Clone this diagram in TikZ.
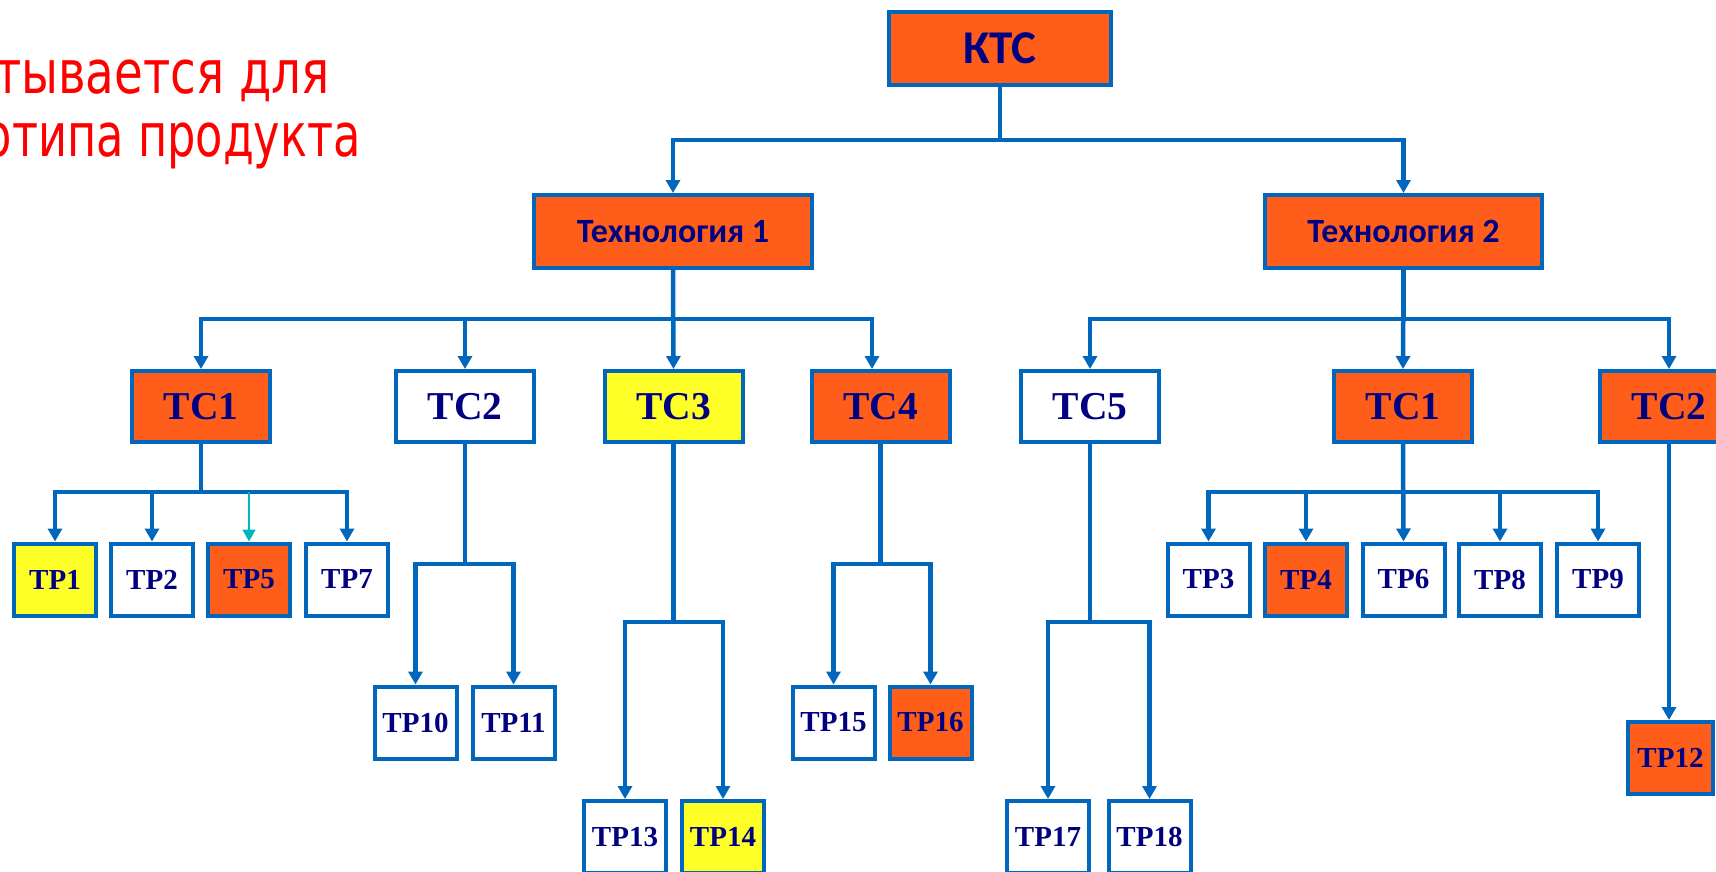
\documentclass[tikz,border=0pt]{standalone}
\usepackage{fontspec}
\usepackage{graphicx}
\usetikzlibrary{arrows.meta}
\newfontfamily\boxsans{Carlito}
\newfontfamily\boxserif{Liberation Serif}
\newfontfamily\notefont{DejaVu Sans}
\definecolor{lineblue}{RGB}{0,103,188}
\definecolor{boxorange}{RGB}{255,94,26}
\definecolor{boxyellow}{RGB}{255,255,40}
\definecolor{navytext}{RGB}{0,0,128}
\definecolor{tealline}{RGB}{0,182,190}
\definecolor{notered}{RGB}{255,0,0}
\tikzset{
  box/.style={draw=lineblue, line width=4pt, inner sep=0pt, text=navytext, fill=white, align=center},
  fillor/.style={fill=boxorange},
  fillye/.style={fill=boxyellow},
  kbox/.style={box, fill=boxorange, minimum width=222pt, minimum height=73pt,
    font=\boxsans\bfseries\fontsize{47}{47}\selectfont},
  techbox/.style={box, fill=boxorange, minimum width=278pt, minimum height=73pt,
    font=\boxsans\bfseries\fontsize{34}{34}\selectfont},
  tcbox/.style={box, minimum width=138pt, minimum height=71pt,
    font=\boxserif\bfseries\fontsize{39.5}{40}\selectfont},
  tpbox/.style={box, minimum width=82pt, minimum height=72pt,
    font=\boxserif\bfseries\fontsize{29}{29}\selectfont},
  conn/.style={draw=lineblue, line width=4.5pt, -{Triangle[width=14pt,length=13pt]}},
  tealconn/.style={draw=tealline, line width=1.8pt, -{Triangle[width=13pt,length=12pt]}},
  note/.style={inner sep=0pt, text=notered, font=\notefont\fontsize{60}{60}\selectfont, anchor=base east}
}
\begin{document}
\begin{tikzpicture}[x=1pt,y=-1pt]
\useasboundingbox (0,0) rectangle (1716,872);

% note text (cut at the left edge, as in the reference)
\node[note] (note1) at (330,94) {\scalebox{0.78}[1]{тывается для}};
\node[note] (note2) at (361,157) {\scalebox{0.745}[1]{отипа продукта}};

% junction levels
\coordinate (j0) at (0,140);
\coordinate (j1) at (0,319);
\coordinate (jA) at (0,492);
\coordinate (jB) at (0,564);
\coordinate (jC) at (0,622);

% top levels
\node[kbox] (ktc) at (1000,48.5) {КТС};
\node[techbox] (t1) at (673,231.5) {Технология 1};
\node[techbox, minimum width=277pt] (t2) at (1403.5,231.5) {Технология 2};

% TC level
\node[tcbox, fillor] (tc1) at (201,406.5) {ТС1};
\node[tcbox] (tc2) at (465,406.5) {ТС2};
\node[tcbox, fillye] (tc3) at (673.5,406.5) {ТС3};
\node[tcbox, fillor] (tc4) at (880.5,406.5) {ТС4};
\node[tcbox] (tc5) at (1090,406.5) {ТС5};
\node[tcbox, fillor] (tc6) at (1403,406.5) {ТС1};
\node[tcbox, fillor] (tc7) at (1669,406.5) {ТС2};

% TP row 1
\node[tpbox, fillye] (tp1) at (55,579.5) {ТР1};
\node[tpbox] (tp2) at (152,579.5) {ТР2};
\node[tpbox, fillor] (tp5) at (249,579.5) {ТР5};
\node[tpbox] (tp7) at (347,579.5) {ТР7};
\node[tpbox] (tp3) at (1208.5,579.5) {ТР3};
\node[tpbox, fillor] (tp4) at (1306,579.5) {ТР4};
\node[tpbox] (tp6) at (1403.5,579.5) {ТР6};
\node[tpbox] (tp8) at (1500,579.5) {ТР8};
\node[tpbox] (tp9) at (1598,579.5) {ТР9};

% TP row 2
\node[tpbox] (tp10) at (415.5,722.5) {ТР10};
\node[tpbox] (tp11) at (513.5,722.5) {ТР11};
\node[tpbox] (tp15) at (833.5,722.5) {ТР15};
\node[tpbox, fillor] (tp16) at (930.5,722.5) {ТР16};
\node[tpbox, fillor, minimum width=85pt] (tp12) at (1670.5,758) {ТР12};

% TP row 3
\node[tpbox] (tp13) at (625,837) {ТР13};
\node[tpbox, fillye] (tp14) at (723,837) {ТР14};
\node[tpbox] (tp17) at (1048,837) {ТР17};
\node[tpbox] (tp18) at (1149.5,837) {ТР18};

% connectors: KTC
\draw[conn] (ktc.south) -- (ktc.south |- j0) -| (t1.north);
\draw[conn] (ktc.south) -- (ktc.south |- j0) -| (t2.north);

% Technology 1
\draw[conn] (t1.south) -- (t1.south |- j1) -| (tc1.north);
\draw[conn] (t1.south) -- (t1.south |- j1) -| (tc2.north);
\draw[conn] (t1.south) -- (tc3.north);
\draw[conn] (t1.south) -- (t1.south |- j1) -| ([xshift=-8.5pt]tc4.north);

% Technology 2
\draw[conn] (t2.south) -- (t2.south |- j1) -| (tc5.north);
\draw[conn] (t2.south) -- (tc6.north);
\draw[conn] (t2.south) -- (t2.south |- j1) -| (tc7.north);

% TC1 (left)
\draw[conn] (tc1.south) -- (tc1.south |- jA) -| (tp1.north);
\draw[conn] (tc1.south) -- (tc1.south |- jA) -| (tp2.north);
\draw[conn] (tc1.south) -- (tc1.south |- jA) -| (tp7.north);
\draw[tealconn] (tp5.north |- jA) -- (tp5.north);

% TC2 (left)
\draw[conn] (tc2.south) -- (tc2.south |- jB) -| (tp10.north);
\draw[conn] (tc2.south) -- (tc2.south |- jB) -| (tp11.north);

% TC3
\draw[conn] (tc3.south) -- (tc3.south |- jC) -| (tp13.north);
\draw[conn] (tc3.south) -- (tc3.south |- jC) -| (tp14.north);

% TC4
\draw[conn] (tc4.south) -- (tc4.south |- jB) -| (tp15.north);
\draw[conn] (tc4.south) -- (tc4.south |- jB) -| (tp16.north);

% TC5
\draw[conn] (tc5.south) -- (tc5.south |- jC) -| (tp17.north);
\draw[conn] (tc5.south) -- (tc5.south |- jC) -| (tp18.north);

% TC1 (right)
\draw[conn] (tc6.south) -- (tc6.south |- jA) -| (tp3.north);
\draw[conn] (tc6.south) -- (tc6.south |- jA) -| (tp4.north);
\draw[conn] (tc6.south) -- (tp6.north);
\draw[conn] (tc6.south) -- (tc6.south |- jA) -| (tp8.north);
\draw[conn] (tc6.south) -- (tc6.south |- jA) -| (tp9.north);

% TC2 (right)
\draw[conn] (tc7.south) -- (tc7.south |- tp12.north);
\end{tikzpicture}
\end{document}
